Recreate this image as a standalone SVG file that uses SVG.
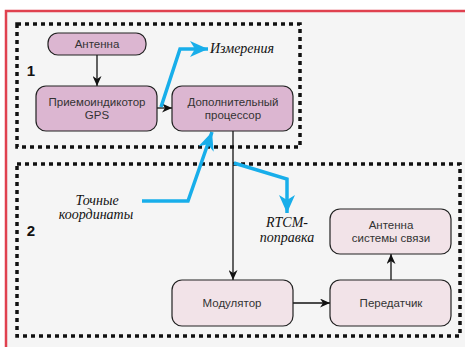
<svg xmlns="http://www.w3.org/2000/svg" width="465" height="347" viewBox="0 0 465 347">
<style>
.frame{fill:#f5f5f5;stroke:#e0414f;stroke-width:2.5}
.dash{fill:none;stroke:#111;stroke-width:3.5;stroke-dasharray:4 4}
.n1{fill:#dcb6d1;stroke:#222;stroke-width:1.2}
.n2{fill:#f2e3e8;stroke:#222;stroke-width:1.2}
.t{font-family:"Liberation Sans",Arial,sans-serif;font-size:11.5px;fill:#333;text-anchor:middle}
.it{font-family:"Liberation Serif","Times New Roman",serif;font-style:italic;font-size:14px;fill:#111;text-anchor:middle}
.num{font-family:"Liberation Sans",Arial,sans-serif;font-weight:bold;font-size:15px;fill:#111;text-anchor:middle}
.k{fill:none;stroke:#111;stroke-width:1.3}
.b{fill:none;stroke:#18aeea;stroke-width:3.5;stroke-linejoin:miter}
</style>
<defs>
<marker id="ak" markerUnits="userSpaceOnUse" markerWidth="11" markerHeight="9" refX="10" refY="4.5" orient="auto">
<path d="M0,0 L10,4.5 L0,9 L3,4.5 z" fill="#111"/>
</marker>
<marker id="ab" markerUnits="userSpaceOnUse" markerWidth="19" markerHeight="16" refX="18" refY="8" orient="auto">
<path d="M0,0 L18,8 L0,16 L5,8 z" fill="#18aeea"/>
</marker>
</defs>
<rect x="0" y="0" width="465" height="347" fill="#ffffff"/>
<rect class="frame" x="6" y="11" width="470" height="350"/>
<g id="group1">
<rect class="dash" x="17" y="24" width="283" height="123"/>
<text class="num" x="31" y="76">1</text>
</g>
<g id="group2">
<rect class="dash" x="17" y="164" width="443" height="172"/>
<text class="num" x="31" y="236">2</text>
</g>
<g id="connectors">
<line class="k" x1="97" y1="55" x2="97" y2="86" marker-end="url(#ak)"/>
<line class="k" x1="157" y1="108" x2="172" y2="108" marker-end="url(#ak)"/>
<line class="k" x1="233" y1="131" x2="233" y2="280" marker-end="url(#ak)"/>
<line class="k" x1="293" y1="303" x2="330" y2="303" marker-end="url(#ak)"/>
<line class="k" x1="391" y1="280" x2="391" y2="254" marker-end="url(#ak)"/>
<polyline class="b" points="161,107 180,49 208,49" marker-end="url(#ab)"/>
<polyline class="b" points="142,201 188,201 212,132" marker-end="url(#ab)"/>
<polyline class="b" points="234,163 287,179 287,213" marker-end="url(#ab)"/>
</g>
<g id="antenna">
<rect class="n1" x="48" y="33" width="98" height="22" rx="10"/>
<text class="t" x="97" y="48">Антенна</text>
</g>
<g id="gps">
<rect class="n1" x="36" y="86" width="121" height="45" rx="10"/>
<text class="t" x="97" y="106">Приемоиндикотор</text>
<text class="t" x="97" y="119">GPS</text>
</g>
<g id="processor">
<rect class="n1" x="172" y="86" width="121" height="45" rx="10"/>
<text class="t" x="233" y="106">Дополнительный</text>
<text class="t" x="233" y="119">процессор</text>
</g>
<g id="modulator">
<rect class="n2" x="172" y="280" width="121" height="46" rx="10"/>
<text class="t" x="232" y="307">Модулятор</text>
</g>
<g id="transmitter">
<rect class="n2" x="330" y="280" width="121" height="46" rx="10"/>
<text class="t" x="391" y="307">Передатчик</text>
</g>
<g id="comm-antenna">
<rect class="n2" x="330" y="209" width="121" height="45" rx="10"/>
<text class="t" x="391" y="229">Антенна</text>
<text class="t" x="391" y="242">системы связи</text>
</g>
<g id="labels">
<text class="it" x="242" y="53">Измерения</text>
<text class="it" x="97" y="205">Точные</text>
<text class="it" x="96" y="219">координаты</text>
<text class="it" x="287" y="227">RTCM-</text>
<text class="it" x="287" y="242">поправка</text>
</g>
</svg>
